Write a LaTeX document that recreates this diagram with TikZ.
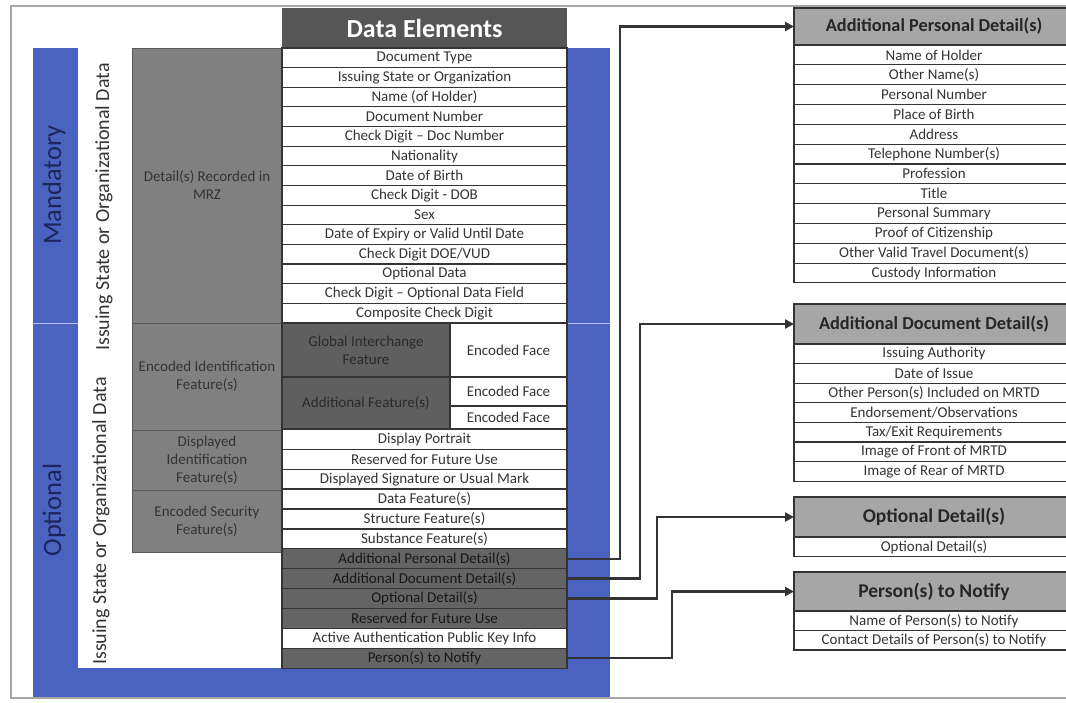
\documentclass[tikz,border=0pt]{standalone}
\usepackage{fontspec}
\setmainfont{Carlito}
\usetikzlibrary{arrows.meta}
\definecolor{panelblue}{RGB}{74,99,192}
\definecolor{navy}{RGB}{28,38,92}
\definecolor{ink}{RGB}{52,52,52}
\definecolor{darkfill}{RGB}{100,100,100}
\definecolor{darkink}{RGB}{24,24,24}
\definecolor{boxfill}{RGB}{128,128,128}
\definecolor{boxline}{RGB}{90,90,90}
\definecolor{headfill}{RGB}{166,166,166}
\definecolor{titlefill}{RGB}{86,86,86}

\begin{document}
\begin{tikzpicture}[x=1pt,y=-1pt,
	every node/.style={inner sep=0pt,outer sep=0pt,anchor=north west,text=ink,font=\fontsize{15}{18}\selectfont},
	cell/.style={rectangle,draw=ink,line width=1.1pt,fill=white,minimum width=285pt,minimum height=19.7pt},
	darkcell/.style={cell,fill=darkfill,text=darkink},
	graybox/.style={rectangle,draw=boxline,line width=1pt,fill=boxfill,minimum width=150pt,align=center},
	rcell/.style={cell,minimum width=280pt,minimum height=19.8pt},
	rhead/.style={rectangle,draw=ink,line width=1.1pt,fill=headfill,minimum width=280pt,text=black!85},
	sidetext/.style={rotate=90,anchor=center},
	link/.style={draw=ink,line width=2.4pt,-{Triangle[length=9pt,width=9pt]}},
	]
\useasboundingbox (0,0) rectangle (1066,702);
\fill[white] (0,0) rectangle (1066,702);
\draw[gray!70,line width=2pt] (11,6) rectangle (1090,698);
% blue panel and the two side columns
\fill[panelblue] (33,48) rectangle (610,697);
\draw[blue!25!white,line width=0.8pt] (33,323) -- (610,323);
\fill[white] (78,48) rectangle (132,374);
\fill[white] (78,374) rectangle (282,668);
\node[sidetext,text=navy,font=\fontsize{26.5}{30}\selectfont] (mand) at (54,185) {Mandatory};
\node[sidetext,text=navy,font=\fontsize{26.5}{30}\selectfont] (opt) at (54,510) {Optional};
\node[sidetext,font=\fontsize{20}{22}\selectfont] (iso1) at (104,207) {Issuing State or Organizational Data};
\node[sidetext,font=\fontsize{20}{22}\selectfont] (iso2) at (101,521) {Issuing State or Organizational Data};
% gray group boxes
\node[graybox,minimum height=275pt] (mrz) at (132,48) {Detail(s) Recorded in\\MRZ};
\node[graybox,minimum height=107pt] (eif) at (132,323) {Encoded Identification\\Feature(s)};
\node[graybox,minimum height=60pt] (dif) at (132,430) {Displayed\\Identification\\Feature(s)};
\node[graybox,minimum height=62pt] (esf) at (132,490) {Encoded Security\\Feature(s)};
% data elements
\node[rectangle,fill=titlefill,text=white,minimum width=285pt,minimum height=40pt,font=\bfseries\fontsize{26}{28}\selectfont] (title) at (282,8) {Data Elements};
\foreach \t [count=\i from 0] in {Document Type,Issuing State or Organization,Name (of Holder),Document Number,Check Digit – Doc Number,Nationality,Date of Birth,Check Digit - DOB,Sex,Date of Expiry or Valid Until Date,Check Digit DOE/VUD,Optional Data,Check Digit – Optional Data Field,Composite Check Digit}
	\node[cell] (de\i) at (282,48+\i*19.64) {\t};
\node[darkcell,fill=darkfill!95!black,minimum width=168pt,minimum height=54pt,align=center,text=ink!80!black] (gif) at (282,323) {Global Interchange\\Feature};
\node[cell,minimum width=117pt,minimum height=54pt] (face1) at (450,323) {Encoded Face};
\node[darkcell,fill=darkfill!95!black,minimum width=168pt,minimum height=52pt,text=ink!80!black] (addf) at (282,377) {Additional Feature(s)};
\node[cell,minimum width=117pt,minimum height=29pt] (face2) at (450,377) {Encoded Face};
\node[cell,minimum width=117pt,minimum height=23pt] (face3) at (450,406) {Encoded Face};
\node[cell] (portrait) at (282,429.5) {Display Portrait};
\node[cell] (rsv1) at (282,449.4) {Reserved for Future Use};
\node[cell] (sig) at (282,469.3) {Displayed Signature or Usual Mark};
\node[cell] (datafeat) at (282,489.2) {Data Feature(s)};
\node[cell] (structfeat) at (282,509.1) {Structure Feature(s)};
\node[cell] (substfeat) at (282,529) {Substance Feature(s)};
\node[darkcell] (apd) at (282,548.9) {Additional Personal Detail(s)};
\node[darkcell] (add) at (282,568.8) {Additional Document Detail(s)};
\node[darkcell] (optd) at (282,588.7) {Optional Detail(s)};
\node[darkcell] (rsv2) at (282,608.6) {Reserved for Future Use};
\node[cell] (aakey) at (282,628.5) {Active Authentication Public Key Info};
\node[darkcell] (pnotify) at (282,648.4) {Person(s) to Notify};
% detail boxes on the right
\node[rhead,minimum height=37pt,font=\bfseries\fontsize{18.3}{20}\selectfont] (hpers) at (794,8) {Additional Personal Detail(s)};
\foreach \t [count=\i from 0] in {Name of Holder,Other Name(s),Personal Number,Place of Birth,Address,Telephone Number(s),Profession,Title,Personal Summary,Proof of Citizenship,Other Valid Travel Document(s),Custody Information}
	\node[rcell] (pr\i) at (794,45+\i*19.83) {\t};
\node[rhead,minimum height=40pt,font=\bfseries\fontsize{18.3}{20}\selectfont] (hdoc) at (794,304) {Additional Document Detail(s)};
\foreach \t [count=\i from 0] in {Issuing Authority,Date of Issue,Other Person(s) Included on MRTD,Endorsement/Observations,Tax/Exit Requirements,Image of Front of MRTD,Image of Rear of MRTD}
	\node[rcell,minimum height=19.6pt] (dr\i) at (794,344+\i*19.6) {\t};
\node[rhead,minimum height=40pt,font=\bfseries\fontsize{19.5}{21}\selectfont] (hopt) at (794,497) {Optional Detail(s)};
\node[rcell,minimum height=19.5pt] (or1) at (794,537) {Optional Detail(s)};
\node[rhead,minimum height=39pt,font=\bfseries\fontsize{19.5}{21}\selectfont] (hpn) at (794,572) {Person(s) to Notify};
\foreach \t [count=\i from 0] in {Name of Person(s) to Notify,Contact Details of Person(s) to Notify}
	\node[rcell,minimum height=19.5pt] (nr\i) at (794,611+\i*19.5) {\t};
% connectors
\draw[link] (apd.east) -- ++(53,0) |- (hpers.west);
\draw[link] (add.east) -- ++(73,0) |- (hdoc.west);
\draw[link] (optd.east) -- ++(90,0) |- (hopt.west);
\draw[link] (pnotify.east) -- ++(105,0) |- (hpn.west);
\end{tikzpicture}
\end{document}
